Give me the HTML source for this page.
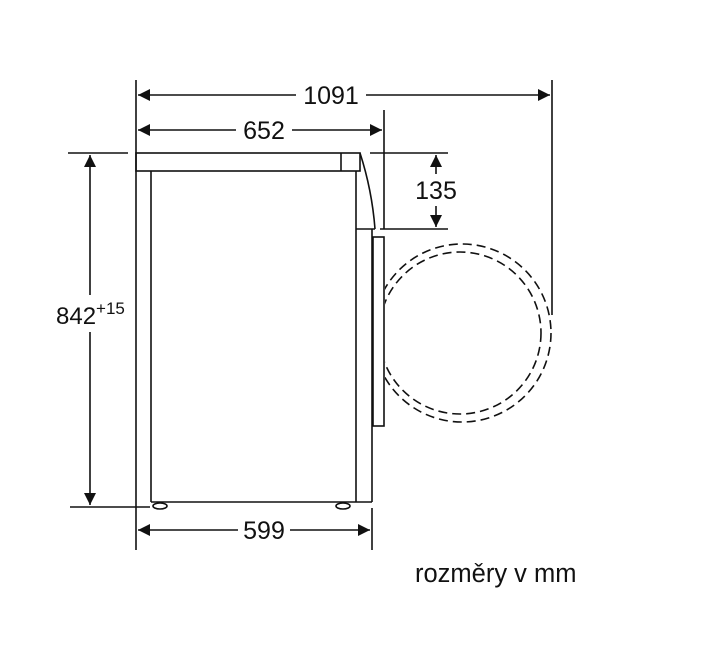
<!DOCTYPE html>
<html><head><style>body{margin:0;background:#fff}svg{display:block}text{font-family:"Liberation Sans",Arial,sans-serif;fill:#111}</style></head><body>
<svg width="710" height="653" viewBox="0 0 710 653" xmlns="http://www.w3.org/2000/svg">
<defs>
<marker id="a" viewBox="0 0 10 10" refX="10" refY="5" markerWidth="18" markerHeight="12" markerUnits="userSpaceOnUse" orient="auto-start-reverse"><path d="M0,0L10,5L0,10z" fill="#111"/></marker>
<clipPath id="c"><rect x="385" y="0" width="400" height="653"/></clipPath>
</defs>
<g stroke="#111" stroke-width="1.6" fill="none">
<line x1="136" y1="80" x2="136" y2="550"/>
<line x1="552" y1="80" x2="552" y2="315"/>
<line x1="384" y1="110" x2="384" y2="229"/>
<line x1="372" y1="508" x2="372" y2="550"/>
<line x1="68" y1="153" x2="128" y2="153"/>
<line x1="70" y1="507" x2="150" y2="507"/>
<line x1="370" y1="153" x2="448" y2="153"/>
<line x1="380" y1="229" x2="448" y2="229"/>
<rect x="136" y="153" width="224" height="18"/>
<line x1="341" y1="153" x2="341" y2="171"/>
<line x1="151" y1="171" x2="151" y2="502"/>
<line x1="356" y1="171" x2="356" y2="502"/>
<path d="M360,153 Q372,190 375,229"/>
<line x1="356" y1="229" x2="375" y2="229"/>
<line x1="372" y1="229" x2="372" y2="502"/>
<rect x="373" y="237" width="11" height="189"/>
<line x1="151" y1="502" x2="372" y2="502"/>
<ellipse cx="160" cy="506" rx="7" ry="3"/>
<ellipse cx="343" cy="506" rx="7" ry="3"/>
<g clip-path="url(#c)" stroke-dasharray="9,5">
<circle cx="462" cy="333" r="89"/>
<circle cx="460" cy="333" r="81"/>
</g>
<line x1="138" y1="95" x2="296" y2="95" marker-start="url(#a)"/>
<line x1="366" y1="95" x2="550" y2="95" marker-end="url(#a)"/>
<line x1="138" y1="130" x2="236" y2="130" marker-start="url(#a)"/>
<line x1="292" y1="130" x2="382" y2="130" marker-end="url(#a)"/>
<line x1="138" y1="530" x2="238" y2="530" marker-start="url(#a)"/>
<line x1="290" y1="530" x2="370" y2="530" marker-end="url(#a)"/>
<line x1="436" y1="155" x2="436" y2="174" marker-start="url(#a)"/>
<line x1="436" y1="206" x2="436" y2="227" marker-end="url(#a)"/>
<line x1="90" y1="155" x2="90" y2="295" marker-start="url(#a)"/>
<line x1="90" y1="332" x2="90" y2="505" marker-end="url(#a)"/>
</g>
<text x="331" y="104" font-size="25" text-anchor="middle">1091</text>
<text x="264" y="139" font-size="25" text-anchor="middle">652</text>
<text x="264" y="539" font-size="25" text-anchor="middle">599</text>
<text x="436" y="199" font-size="25" text-anchor="middle">135</text>
<text x="56" y="324" font-size="24">842<tspan font-size="17" dy="-10">+15</tspan></text>
<text x="415" y="582" font-size="25.5">rozměry v mm</text>
</svg>
</body></html>
